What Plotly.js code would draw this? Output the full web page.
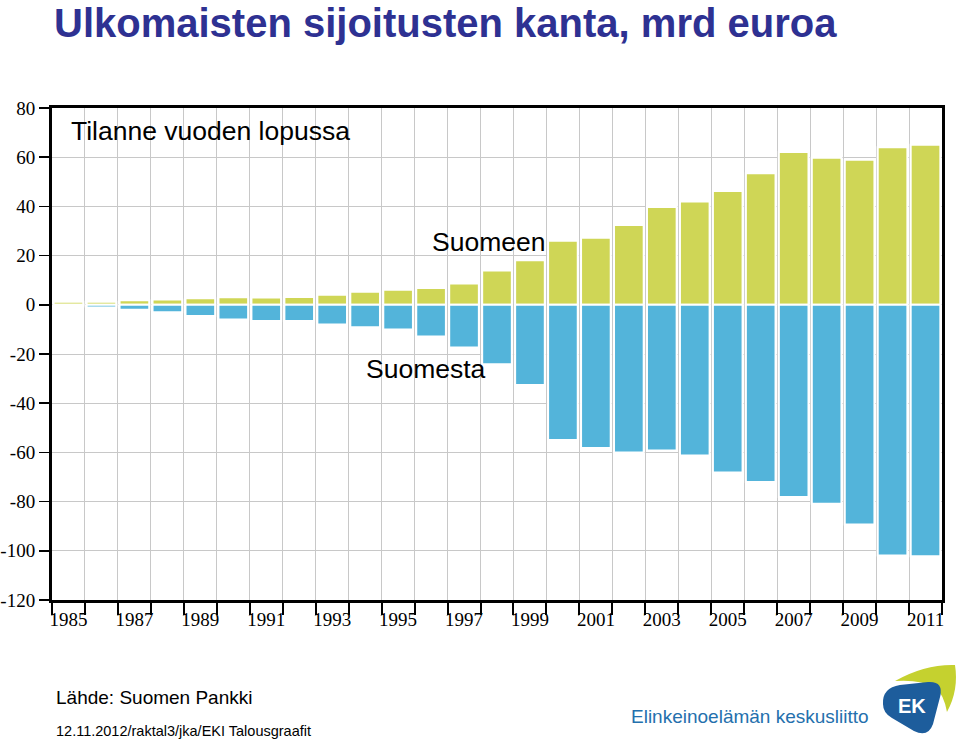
<!DOCTYPE html>
<html>
<head>
<meta charset="utf-8">
<script src="https://cdn.plot.ly/plotly-3.0.1.min.js"></script>
<style>html,body{margin:0;padding:0;background:#fff;}#chart{width:960px;height:743px;}</style>
</head>
<body>
<div id="chart"></div>
<script>
// ---- data ----
const years = [1985,1986,1987,1988,1989,1990,1991,1992,1993,1994,1995,1996,1997,1998,1999,2000,2001,2002,2003,2004,2005,2006,2007,2008,2009,2010,2011];
const suomeen = [1.2,1.2,1.8,2.2,2.7,3.1,3.0,3.2,4.1,5.3,6.1,6.8,8.7,13.9,18.1,26.0,27.3,32.4,39.8,42.0,46.3,53.5,62.1,59.8,59.0,64.0,65.1];
const suomesta = [-0.7,-1.1,-2.0,-3.0,-4.6,-6.0,-6.6,-6.6,-8.0,-9.1,-10.0,-12.9,-17.4,-24.2,-32.6,-55.0,-58.2,-60.0,-59.2,-61.3,-68.2,-72.0,-78.1,-80.9,-89.3,-101.9,-102.2];
const xTickYears = [1985,1987,1989,1991,1993,1995,1997,1999,2001,2003,2005,2007,2009,2011];
const yTickVals = [-120,-100,-80,-60,-40,-20,0,20,40,60,80];
const yTickLabels = ['-120','-100','-80','-60','-40','-20','0','20','40','60','80'];

const GREEN = '#cfd656';
const BLUE = '#53b4da';

// plot area in pixels (for logo placement)
const PL = 52, PR = 942, PT = 108, PB = 600;
function px2paper(pts){
  return pts.map(p => ((p[0]-PL)/(PR-PL)).toFixed(4) + ',' + ((PB-p[1])/(PB-PT)).toFixed(4)).join(' ');
}
function pathFrom(cmds){
  return cmds.map(c => c[0] + ' ' + px2paper(c.slice(1))).join(' ');
}

const traces = [
  {type:'bar', x:years, y:suomeen, name:'Suomeen', marker:{color:GREEN, line:{color:'#ffffff', width:2}}, hoverinfo:'x+y'},
  {type:'bar', x:years, y:suomesta, name:'Suomesta', marker:{color:BLUE, line:{color:'#ffffff', width:2}}, hoverinfo:'x+y'}
];

const serif = 'Liberation Serif, serif';
const sans = 'Liberation Sans, Arial, sans-serif';
const serifSpan = s => '<span style="font-family:\'Liberation Serif\',serif">' + s + '</span>';

const greenPath = pathFrom([
  ['M',[895,681]],
  ['Q',[925,664],[955,665]],
  ['Q',[959,690],[947,712]],
  ['Q',[944,695],[936,688]],
  ['Q',[920,679],[895,681]]
]) + ' Z';
const bluePath = pathFrom([
  ['M',[883,704]],
  ['Q',[882,688],[900,685]],
  ['L',[928,682]],
  ['Q',[944,681],[940,697]],
  ['L',[933,724]],
  ['Q',[928,738],[914,731]],
  ['L',[892,718]],
  ['Q',[883,713],[883,704]]
]) + ' Z';

const layout = {
  width:960, height:743,
  margin:{l:PL, r:960-PR, t:PT, b:743-PB, pad:0},
  paper_bgcolor:'#ffffff', plot_bgcolor:'#ffffff',
  showlegend:false,
  barmode:'relative',
  bargap:0.1,
  title:{
    text:'Ulkomaisten sijoitusten kanta, mrd euroa',
    x:54/960, xanchor:'left', xref:'container',
    y:1-23/743, yanchor:'middle', yref:'container',
    font:{family:sans, size:40, color:'#2e3192', weight:'bold'}
  },
  xaxis:{
    type:'linear',
    range:[1984.5, 2011.5],
    tickmode:'array', tickvals:xTickYears, ticktext:xTickYears.map(String),
    ticks:'', showgrid:false, zeroline:false,
    tickfont:{family:serif, size:19, color:'#000'},
    showline:true, linecolor:'#000', linewidth:3, mirror:true,
    minor:{tickmode:'linear', tick0:0.5, dtick:1, ticks:'outside', ticklen:12, tickwidth:2, tickcolor:'#000', showgrid:true, gridcolor:'#c8c8c8', gridwidth:1},
    fixedrange:true
  },
  yaxis:{
    range:[-120, 80],
    tickmode:'array', tickvals:yTickVals, ticktext:yTickLabels.map(serifSpan),
    ticks:'outside', ticklen:10, tickwidth:1.5, tickcolor:'#000',
    tickfont:{family:serif, size:19, color:'#000'},
    showgrid:true, gridcolor:'#c8c8c8', gridwidth:1,
    zeroline:false,
    showline:true, linecolor:'#000', linewidth:3, mirror:true,
    fixedrange:true
  },
  annotations:[
    {text:'Tilanne vuoden lopussa', xref:'paper', yref:'paper', x:(69-PL)/(PR-PL), y:(PB-131)/(PB-PT), xanchor:'left', yanchor:'middle', showarrow:false, font:{family:sans, size:26.5, color:'#000'}},
    {text:'Suomeen', xref:'paper', yref:'paper', x:(430-PL)/(PR-PL), y:(PB-242)/(PB-PT), xanchor:'left', yanchor:'middle', showarrow:false, font:{family:sans, size:26.5, color:'#000'}},
    {text:'Suomesta', xref:'paper', yref:'paper', x:(364-PL)/(PR-PL), y:(PB-369)/(PB-PT), xanchor:'left', yanchor:'middle', showarrow:false, font:{family:sans, size:26.5, color:'#000'}},
    {text:'Lähde: Suomen Pankki', xref:'paper', yref:'paper', x:(54-PL)/(PR-PL), y:(PB-697)/(PB-PT), xanchor:'left', yanchor:'middle', showarrow:false, font:{family:sans, size:19, color:'#000'}},
    {text:'12.11.2012/raktal3/jka/EKI Talousgraafit', xref:'paper', yref:'paper', x:(54-PL)/(PR-PL), y:(PB-731)/(PB-PT), xanchor:'left', yanchor:'middle', showarrow:false, font:{family:sans, size:14.5, color:'#000'}},
    {text:'Elinkeinoelämän keskusliitto', xref:'paper', yref:'paper', x:(629-PL)/(PR-PL), y:(PB-716)/(PB-PT), xanchor:'left', yanchor:'middle', showarrow:false, font:{family:sans, size:19, color:'#2470ad'}},
    {text:'<b>EK</b>', xref:'paper', yref:'paper', x:(912-PL)/(PR-PL), y:(PB-706)/(PB-PT), xanchor:'center', yanchor:'middle', showarrow:false, font:{family:sans, size:20, color:'#ffffff'}}
  ],
  shapes:[
    {type:'path', xref:'paper', yref:'paper', path:greenPath, fillcolor:'#c5d12f', line:{width:0}, layer:'above'},
    {type:'path', xref:'paper', yref:'paper', path:bluePath, fillcolor:'#1d5d9c', line:{width:0}, layer:'above'}
  ]
};

Plotly.newPlot('chart', traces, layout, {displayModeBar:false, staticPlot:true});
</script>
</body>
</html>
